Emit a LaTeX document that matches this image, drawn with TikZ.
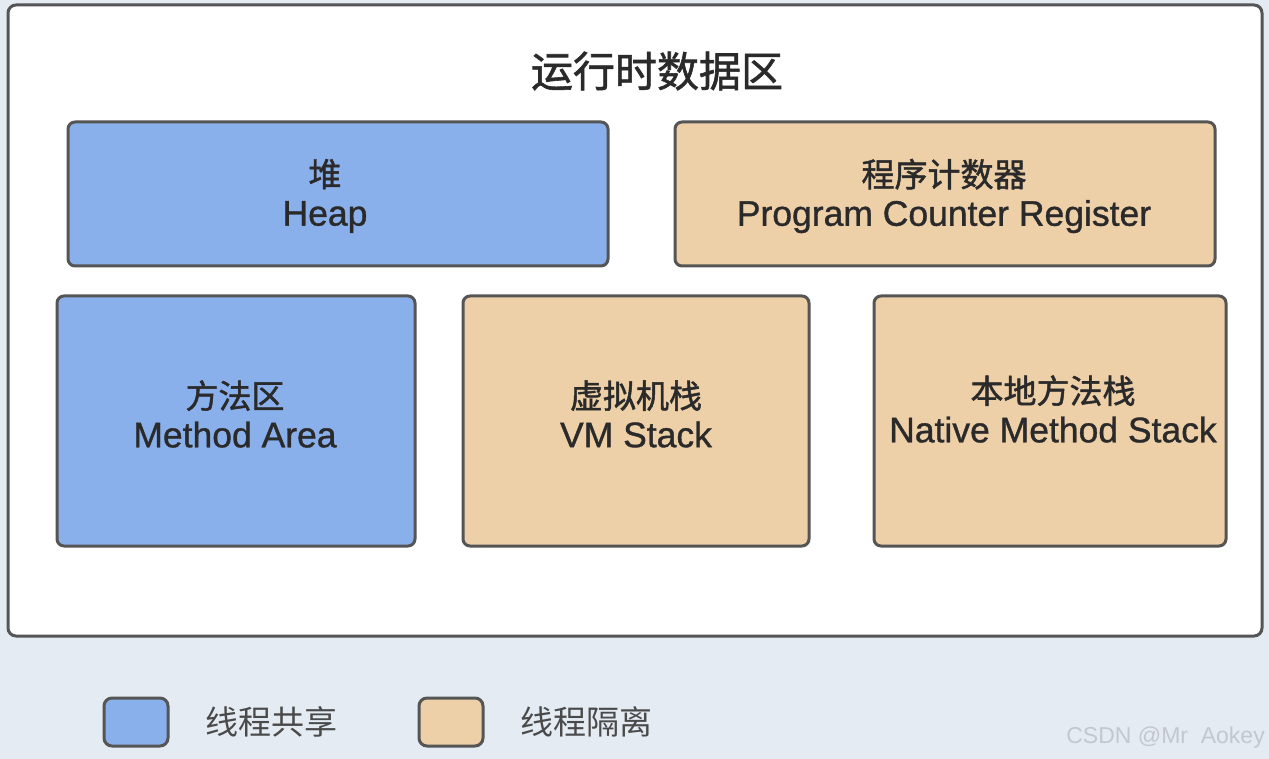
\documentclass[tikz,border=0pt]{standalone}
\usepackage{fontspec}
\setmainfont{Liberation Sans}
\newfontfamily\cjk{Noto Sans CJK SC}
\newfontfamily\cjkb{Noto Sans CJK SC}[FakeBold=1.4]
\newfontfamily\enbase{Liberation Sans}[FakeBold=1.0]
\newcommand{\enb}{\enbase\fontsize{35.5}{39}\selectfont}
\definecolor{bgc}{HTML}{E4EBF3}
\definecolor{bluef}{HTML}{8AB0EC}
\definecolor{tanf}{HTML}{EDCFA8}
\definecolor{edgec}{HTML}{555555}
\definecolor{txt}{HTML}{2A2A2A}
\definecolor{wm}{HTML}{C4C8CE}
\tikzset{
  region/.style={draw=edgec, line width=3pt, rounded corners=7pt, inner sep=0pt},
  shared/.style={region, fill=bluef},
  isolated/.style={region, fill=tanf},
  boxtext/.style={text=txt, align=center, font=\fontsize{33}{39}\selectfont, inner sep=0pt},
  legbox/.style={draw=edgec, line width=3pt, rounded corners=8pt, minimum width=64pt, minimum height=48pt, inner sep=0pt},
  legtext/.style={text=txt!85, font=\cjk\fontsize{33}{39}\selectfont, anchor=west, inner sep=0pt}
}
\begin{document}
\begin{tikzpicture}[x=1pt,y=-1pt]
\fill[bgc] (0,0) rectangle (1269,759);
\useasboundingbox (0,0) rectangle (1269,759);
\node[draw=edgec, line width=3pt, fill=white, rounded corners=8pt, minimum width=1254pt, minimum height=631pt, inner sep=0pt] (outer) at (635,320.5) {};
\node[text=txt, font=\cjkb\fontsize{42}{48}\selectfont, inner sep=0pt] (title) at (657,71) {运行时数据区};
\node[shared, minimum width=540pt, minimum height=144pt] (heap) at (338,194) {};
\node[boxtext] (heapt) at (325,196) {{\cjkb 堆}\\{\enb Heap}};
\node[isolated, minimum width=540pt, minimum height=144pt] (pc) at (945,194) {};
\node[boxtext] (pct) at (944,196) {{\cjkb 程序计数器}\\{\enb Program Counter Register}};
\node[shared, minimum width=358pt, minimum height=250pt] (method) at (236,421) {};
\node[boxtext] (methodt) at (235,414) {{\cjkb 方法区}\\{\enb Method Area}};
\node[isolated, minimum width=346pt, minimum height=250pt] (vm) at (636,421) {};
\node[boxtext] (vmt) at (636,414) {{\cjkb 虚拟机栈}\\{\enb VM Stack}};
\node[isolated, minimum width=352pt, minimum height=250pt] (native) at (1050,421) {};
\node[boxtext] (nativet) at (1053,409) {{\cjkb 本地方法栈}\\{\enb Native Method Stack}};
\node[legbox, fill=bluef] (lb1) at (136,722) {};
\node[legtext] (lt1) at (205,722) {线程共享};
\node[legbox, fill=tanf] (lb2) at (451,722) {};
\node[legtext] (lt2) at (520,722) {线程隔离};
\node[text=wm, font=\fontsize{23}{26}\selectfont, anchor=east, inner sep=0pt] (wmark) at (1265,738) {CSDN @Mr\ \ Aokey};
\end{tikzpicture}
\end{document}
